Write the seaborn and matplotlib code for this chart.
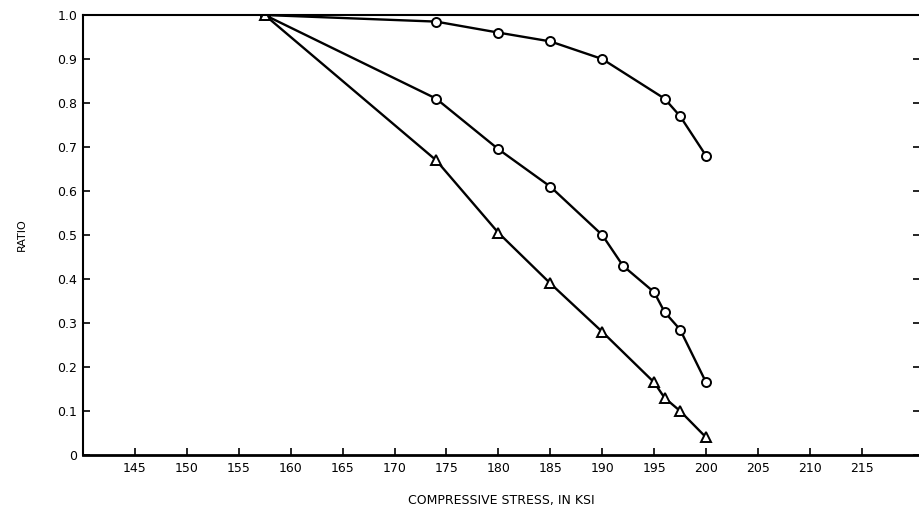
import numpy as np
import pandas as pd
import matplotlib
matplotlib.use("Agg")
import matplotlib.pyplot as plt
import seaborn as sns

# Data
top_x = [157.5, 174, 180, 185, 190, 196, 197.5, 200]
top_y = [1.0, 0.985, 0.96, 0.94, 0.90, 0.81, 0.77, 0.68]

mid_x = [157.5, 174, 180, 185, 190, 192, 195, 196, 197.5, 200]
mid_y = [1.0, 0.81, 0.695, 0.61, 0.50, 0.43, 0.37, 0.325, 0.285, 0.165]

bot_x = [157.5, 174, 180, 185, 190, 195, 196, 197.5, 200]
bot_y = [1.0, 0.67, 0.505, 0.39, 0.28, 0.165, 0.13, 0.10, 0.04]

x_ticks = [145, 150, 155, 160, 165, 170, 175, 180, 185, 190, 195, 200, 205, 210, 215]
x_tick_labels = ["145", "150", "155", "160", "165", "170", "175", "180", "185",
                 "190", "195", "200", "205", "210", "215"]
y_ticks = [0, 0.1, 0.2, 0.3, 0.4, 0.5, 0.6, 0.7, 0.8, 0.9, 1.0]
y_tick_labels = ["0", "0.1", "0.2", "0.3", "0.4", "0.5", "0.6", "0.7", "0.8", "0.9", "1.0"]

sns.set_style("white")
plt.rcParams['font.family'] = ['DejaVu Sans']

fig = plt.figure(figsize=(9.2, 5.16), dpi=100)
ax = fig.add_axes([83/920, 1 - 455/516, 1 - 83/920, (455 - 15)/516])

common = dict(color="black", linewidth=1.7, markersize=6.5,
              markerfacecolor="white", markeredgecolor="black",
              markeredgewidth=1.4, ax=ax)
sns.lineplot(x=top_x, y=top_y, marker="o", **common)
sns.lineplot(x=mid_x, y=mid_y, marker="o", **common)
sns.lineplot(x=bot_x, y=bot_y, marker="^", **common)

ax.set_xlim(140, 220.6)
ax.set_ylim(0, 1.0)
ax.set_xticks(x_ticks)
ax.set_xticklabels(x_tick_labels)
ax.set_yticks(y_ticks)
ax.set_yticklabels(y_tick_labels)

for side in ["left", "bottom", "top"]:
    ax.spines[side].set_visible(True)
    ax.spines[side].set_color("black")
ax.spines["left"].set_linewidth(1.5)
ax.spines["bottom"].set_linewidth(2.0)
ax.spines["top"].set_linewidth(1.5)
ax.spines["right"].set_visible(False)

ax.tick_params(axis="x", direction="in", length=5, width=1.2, pad=5,
               labelsize=9, colors="black", bottom=True)
ax.tick_params(axis="y", direction="in", length=5, width=1.2, pad=4,
               labelsize=9, colors="black", left=True, right=True)

ax.set_xlabel("COMPRESSIVE STRESS, IN KSI", fontsize=9, labelpad=14,
              color="black")
ax.set_ylabel("RATIO", fontsize=8, labelpad=22, color="black")

fig.savefig("out.png", dpi=100)
